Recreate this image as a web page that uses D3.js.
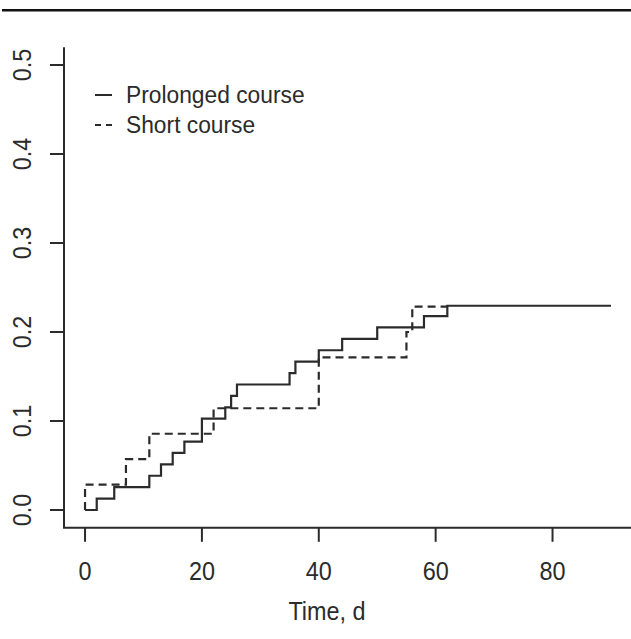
<!DOCTYPE html>
<html>
<head>
<meta charset="utf-8">
<script src="https://cdn.jsdelivr.net/npm/d3@7"></script>
<style>
  body { margin: 0; background: #fff; }
  svg text { font-family: "Liberation Sans", Arial, sans-serif; fill: #2b2b2b; }
</style>
</head>
<body>
<div id="chart"></div>
<script>
// cumulative incidence, step times (days) and values
const prolongedTimes = [0, 2, 5, 11, 13, 15, 17, 20, 24, 25, 26, 35, 36, 40, 44, 50, 58, 62, 90];
const prolongedValues = [0, 0.0128, 0.0256, 0.0385, 0.0513, 0.0641, 0.0769, 0.1026, 0.1154, 0.1282, 0.141, 0.1538, 0.1667, 0.1795, 0.1923, 0.2051, 0.2179, 0.2295, 0.2295];
const shortTimes = [0, 0, 7, 11, 22, 40, 55, 56, 62];
const shortValues = [0, 0.0286, 0.0571, 0.0857, 0.1143, 0.1714, 0.2, 0.2286, 0.2286];

const xTicks = [0, 20, 40, 60, 80];
const yTicks = [0.0, 0.1, 0.2, 0.3, 0.4, 0.5];
const legendLabels = ["Prolonged course", "Short course"];
const xTitle = "Time, d";

const W = 631, H = 639;
const ink = "#2b2b2b";
// glyphs in the picture are a little taller than they are wide
const squeeze = 0.9;

const svg = d3.select("#chart").append("svg")
  .attr("width", W).attr("height", H);

// thin black rule across the top
svg.append("rect")
  .attr("x", 2).attr("y", 9).attr("width", W - 2).attr("height", 2.5)
  .attr("fill", "#111");

// R style: 4% padding on both ends of the data range
const x = d3.scaleLinear().domain([-3.6, 93.6]).range([64, 632]);
const y = d3.scaleLinear().domain([-0.02, 0.52]).range([527.8, 47.2]);

const plotLeft = x.range()[0], plotBottom = y.range()[0], plotTop = y.range()[1];

// L-shaped box
svg.append("path")
  .attr("d", `M${plotLeft},${plotTop}V${plotBottom}H${W}`)
  .attr("fill", "none").attr("stroke", ink).attr("stroke-width", 2);

// x ticks
svg.selectAll(".xt").data(xTicks).enter().append("line")
  .attr("x1", d => x(d)).attr("x2", d => x(d))
  .attr("y1", plotBottom).attr("y2", plotBottom + 14)
  .attr("stroke", ink).attr("stroke-width", 2);

svg.selectAll(".xl").data(xTicks).enter().append("text")
  .attr("transform", d => `translate(${x(d)},580) scale(${squeeze},1)`)
  .attr("text-anchor", "middle")
  .style("font-size", "26px")
  .text(d => d);

// y ticks
svg.selectAll(".yt").data(yTicks).enter().append("line")
  .attr("x1", plotLeft - 14).attr("x2", plotLeft)
  .attr("y1", d => y(d)).attr("y2", d => y(d))
  .attr("stroke", ink).attr("stroke-width", 2);

svg.selectAll(".yl").data(yTicks).enter().append("text")
  .attr("transform", d => `translate(31,${y(d)}) rotate(-90) scale(${squeeze},1)`)
  .attr("text-anchor", "middle")
  .style("font-size", "26px")
  .text(d => d.toFixed(1));

// axis title
svg.append("text")
  .attr("transform", `translate(327,620) scale(${squeeze},1)`)
  .attr("text-anchor", "middle")
  .style("font-size", "26px")
  .text(xTitle);

// curves
const line = d3.line()
  .x(d => x(d[0])).y(d => y(d[1]))
  .curve(d3.curveStepAfter);

svg.append("path")
  .datum(d3.zip(shortTimes, shortValues))
  .attr("d", line)
  .attr("fill", "none").attr("stroke", ink)
  .attr("stroke-width", 2.2).attr("stroke-dasharray", "8,5");

svg.append("path")
  .datum(d3.zip(prolongedTimes, prolongedValues))
  .attr("d", line)
  .attr("fill", "none").attr("stroke", ink)
  .attr("stroke-width", 2.2);

// legend
const legend = svg.append("g");
legendLabels.forEach((lab, i) => {
  const ly = 95 + i * 30;
  legend.append("line")
    .attr("x1", 95).attr("x2", 112).attr("y1", ly).attr("y2", ly)
    .attr("stroke", ink).attr("stroke-width", 2)
    .attr("stroke-dasharray", i === 1 ? "6,5" : null);
  legend.append("text")
    .attr("transform", `translate(126,${ly + 8}) scale(0.95,1)`)
    .style("font-size", "24px")
    .text(lab);
});
</script>
</body>
</html>
